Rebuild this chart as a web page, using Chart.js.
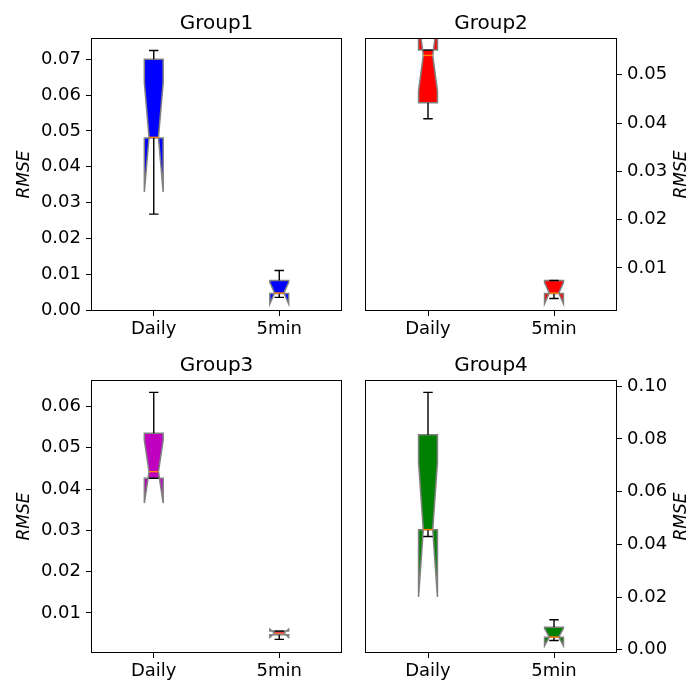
<!DOCTYPE html>
<html>
<head>
<meta charset="utf-8">
<script src="https://cdn.jsdelivr.net/npm/chart.js@4"></script>
<style>
  body { margin: 0; background: #fff; }
  #fig { position: relative; width: 689px; height: 684px; }
  #fig canvas { position: absolute; }
</style>
</head>
<body>
<div id="fig">
  <canvas id="c0" width="345" height="342" style="left:0px;top:0px"></canvas>
  <canvas id="c1" width="344" height="342" style="left:345px;top:0px"></canvas>
  <canvas id="c2" width="345" height="342" style="left:0px;top:342px"></canvas>
  <canvas id="c3" width="344" height="342" style="left:345px;top:342px"></canvas>
</div>
<script>
// notched boxplot stats, one [Daily, 5min] pair per group
const groups = ['Group1', 'Group2', 'Group3', 'Group4'];
const categories = ['Daily', '5min'];

const whiskerLow  = [[0.0268, 0.0036], [0.0409, 0.0037], [0.0426, 0.0036], [0.0430, 0.0035]];
const q1          = [[0.0480, 0.0047], [0.0442, 0.0047], [0.0426, 0.0047], [0.0455, 0.0047]];
const medians     = [[0.0482, 0.0048], [0.0540, 0.0048], [0.0442, 0.0051], [0.0456, 0.0048]];
const q3          = [[0.0700, 0.0083], [0.0551, 0.0074], [0.0535, 0.0056], [0.0816, 0.0085]];
const whiskerHigh = [[0.0724, 0.0111], [0.0551, 0.0074], [0.0634, 0.0056], [0.0977, 0.0114]];
const notchLow    = [[0.0330, 0.0018], [0.0466, 0.0026], [0.0366, 0.0041], [0.0200, 0.0015]];
const notchHigh   = [[0.0634, 0.0078], [0.0614, 0.0070], [0.0518, 0.0061], [0.0712, 0.0081]];

const yTicks = [
  [0.00, 0.01, 0.02, 0.03, 0.04, 0.05, 0.06, 0.07],
  [0.01, 0.02, 0.03, 0.04, 0.05],
  [0.01, 0.02, 0.03, 0.04, 0.05, 0.06],
  [0.00, 0.02, 0.04, 0.06, 0.08, 0.10]
];
const yMin = [-0.0002, 0.0011, 0.0003, -0.00125];
const yMax = [0.0759, 0.0576, 0.0664, 0.1024];

const boxColors = ['#0000ff', '#ff0000', '#bf00bf', '#008000'];
const boxWidth = 0.15;

Chart.defaults.font.family = '"DejaVu Sans", sans-serif';
Chart.defaults.color = '#000';

const panels = [
  { side: 'left',  pad: { left: 0, right: 3, top: 38, bottom: 0 }, axisWidth: 91 },
  { side: 'right', pad: { left: 20, right: 0, top: 38, bottom: 0 }, axisWidth: 72 },
  { side: 'left',  pad: { left: 0, right: 3, top: 38, bottom: 0 }, axisWidth: 91 },
  { side: 'right', pad: { left: 20, right: 0, top: 38, bottom: 0 }, axisWidth: 72 }
];

const boxPlugin = {
  id: 'notchedBoxes',
  afterDatasetsDraw(chart, args, opts) {
    const g = opts.group;
    const ctx = chart.ctx;
    const a = chart.chartArea;
    const xs = chart.scales.x, ys = chart.scales.y;
    const unit = xs.getPixelForValue(1) - xs.getPixelForValue(0);
    const half = unit * boxWidth / 2;
    const py = v => ys.getPixelForValue(v);

    ctx.save();
    ctx.beginPath();
    ctx.rect(a.left, a.top, a.right - a.left, a.bottom - a.top);
    ctx.clip();

    categories.forEach((c, i) => {
      const cx = xs.getPixelForValue(i);
      const L = cx - half, R = cx + half, cl = cx - half / 2, cr = cx + half / 2;
      const pts = [
        [L, q1[g][i]], [R, q1[g][i]], [R, notchLow[g][i]], [cr, medians[g][i]],
        [R, notchHigh[g][i]], [R, q3[g][i]], [L, q3[g][i]], [L, notchHigh[g][i]],
        [cl, medians[g][i]], [L, notchLow[g][i]], [L, q1[g][i]]
      ];
      ctx.beginPath();
      pts.forEach(([px, v], k) => k ? ctx.lineTo(px, py(v)) : ctx.moveTo(px, py(v)));
      ctx.closePath();
      ctx.fillStyle = boxColors[g];
      ctx.fill();
      ctx.strokeStyle = '#808080';
      ctx.lineWidth = 1.5;
      ctx.lineJoin = 'miter';
      ctx.stroke();

      // whiskers + caps
      ctx.strokeStyle = '#000';
      ctx.lineWidth = 1.4;
      ctx.beginPath();
      ctx.moveTo(cx, py(q1[g][i])); ctx.lineTo(cx, py(whiskerLow[g][i]));
      ctx.moveTo(cx, py(q3[g][i])); ctx.lineTo(cx, py(whiskerHigh[g][i]));
      ctx.moveTo(cl, py(whiskerLow[g][i])); ctx.lineTo(cr, py(whiskerLow[g][i]));
      ctx.moveTo(cl, py(whiskerHigh[g][i])); ctx.lineTo(cr, py(whiskerHigh[g][i]));
      ctx.stroke();

      // median
      ctx.strokeStyle = '#ff7f0e';
      ctx.beginPath();
      ctx.moveTo(cl, py(medians[g][i])); ctx.lineTo(cr, py(medians[g][i]));
      ctx.stroke();
    });
    ctx.restore();
  },
  afterDraw(chart, args, opts) {
    const g = opts.group;
    const ctx = chart.ctx;
    const a = chart.chartArea;
    ctx.save();
    // axes frame
    ctx.strokeStyle = '#000';
    ctx.lineWidth = 1;
    ctx.strokeRect(Math.round(a.left) + 0.5, Math.round(a.top) + 0.5,
      Math.round(a.right - a.left) - 1, Math.round(a.bottom - a.top) - 1);
    // title
    ctx.fillStyle = '#000';
    ctx.font = '20px "DejaVu Sans"';
    ctx.textAlign = 'center';
    ctx.textBaseline = 'alphabetic';
    ctx.fillText(groups[g], (a.left + a.right) / 2, a.top - 9);
    // y label
    ctx.font = 'italic 17px "DejaVu Sans"';
    ctx.textBaseline = 'middle';
    const lx = opts.side === 'left' ? a.left - 66.5 : a.right + 64.5;
    ctx.translate(lx, (a.top + a.bottom) / 2);
    ctx.rotate(-Math.PI / 2);
    ctx.fillText('RMSE', 0, 0);
    ctx.restore();
  }
};

groups.forEach((name, g) => {
  const p = panels[g];
  new Chart(document.getElementById('c' + g), {
    type: 'line',
    data: {
      labels: categories,
      datasets: [{ data: medians[g], showLine: false, pointRadius: 0 }]
    },
    options: {
      responsive: false,
      animation: false,
      devicePixelRatio: 1,
      layout: { padding: p.pad },
      plugins: {
        legend: { display: false },
        tooltip: { enabled: false },
        notchedBoxes: { group: g, side: p.side }
      },
      scales: {
        x: {
          type: 'category',
          offset: true,
          grid: { drawOnChartArea: false, drawTicks: true, tickLength: 5, color: '#000', offset: false },
          border: { display: false },
          ticks: { color: '#000', font: { size: 18 }, padding: 3, maxRotation: 0 },
          afterFit: s => { s.height = 31; }
        },
        y: {
          type: 'linear',
          position: p.side,
          min: yMin[g],
          max: yMax[g],
          afterBuildTicks: s => { s.ticks = yTicks[g].map(v => ({ value: v })); },
          grid: { drawOnChartArea: false, drawTicks: true, tickLength: 5, color: '#000' },
          border: { display: false },
          ticks: { color: '#000', font: { size: 18 }, padding: 5, callback: v => v.toFixed(2) },
          afterFit: s => { s.width = p.axisWidth; }
        }
      }
    },
    plugins: [boxPlugin]
  });
});
</script>
</body>
</html>
